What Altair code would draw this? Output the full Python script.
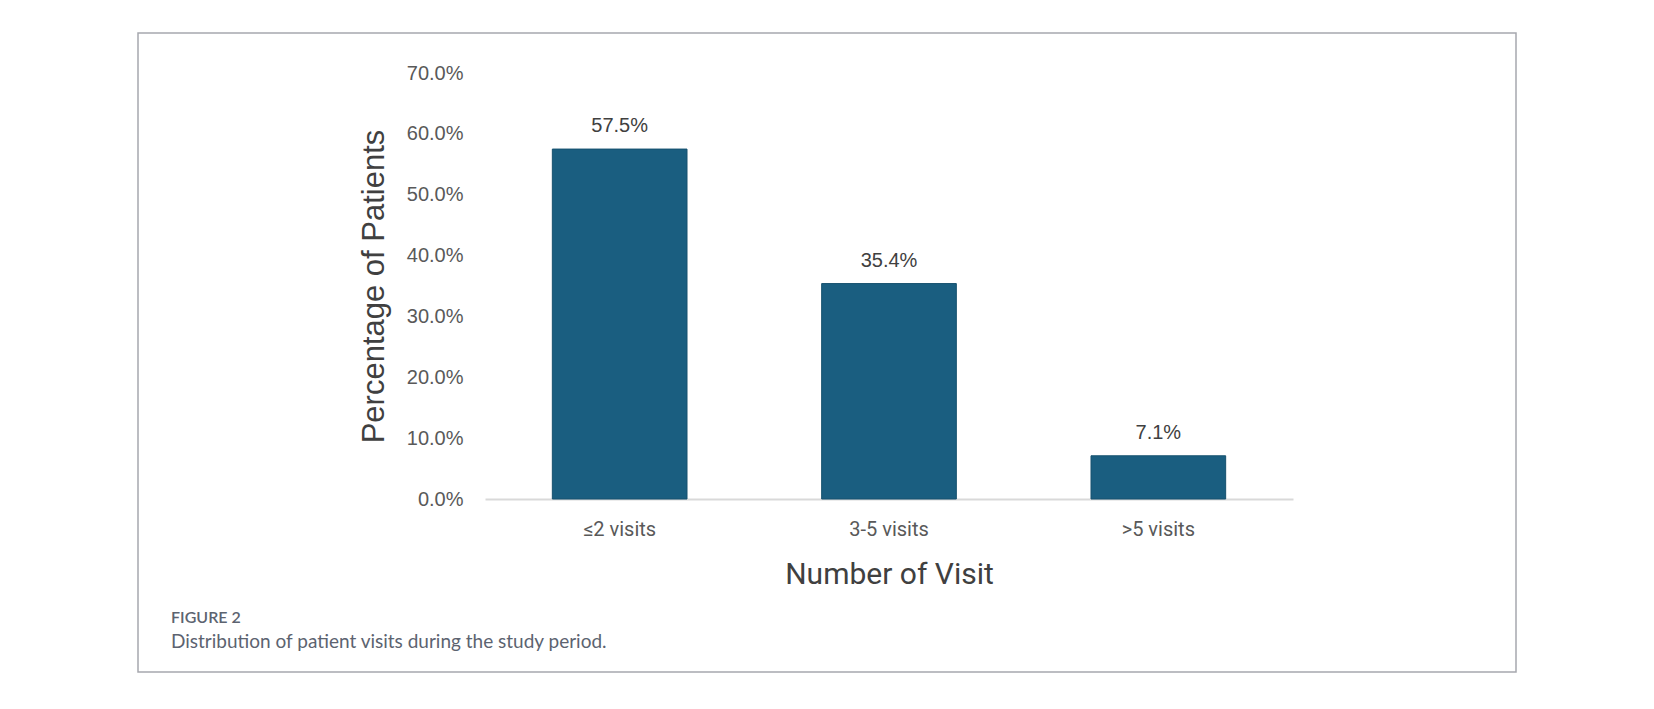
import altair as alt
import pandas as pd

# Share of patients by number of visits during the study period
visit_groups = ["≤2 visits", "3-5 visits", ">5 visits"]
patient_pct = [57.5, 35.4, 7.1]
y_ticks = [0, 10, 20, 30, 40, 50, 60, 70]

fig_label = "FIGURE 2"
fig_caption = "Distribution of patient visits during the study period."

df = pd.DataFrame({"group": visit_groups, "pct": patient_pct})
df["label"] = [f"{v:.1f}%" for v in patient_pct]

BAR = "#1a5e80"
TEXT = "#404040"
CAPTION = "#5c6370"

x_enc = alt.X(
    "group:N",
    sort=visit_groups,
    scale=alt.Scale(paddingInner=0.5, paddingOuter=0.25),
    axis=alt.Axis(
        title="Number of Visit",
        labelAngle=0,
        labelFont="Roboto",
        labelFontSize=20,
        labelColor="#595959",
        labelPadding=20,
        ticks=False,
        tickSize=0,
        domainColor="#d9d9d9",
        domainWidth=2,
        titleFont="Roboto",
        titleFontSize=30,
        titleFontWeight="normal",
        titleColor=TEXT,
        titlePadding=20,
    ),
)
y_enc = alt.Y(
    "pct:Q",
    scale=alt.Scale(domain=[0, 70], nice=False),
    axis=alt.Axis(
        title="Percentage of Patients",
        values=y_ticks,
        labelExpr="format(datum.value, '.1f') + '%'",
        labelFont="Liberation Sans",
        labelFontSize=20,
        labelColor="#595959",
        labelPadding=22,
        ticks=False,
        tickSize=0,
        domain=False,
        grid=False,
        titleFont="Liberation Sans",
        titleFontSize=31,
        titleFontWeight="normal",
        titleColor=TEXT,
        titlePadding=16,
    ),
)

bars = alt.Chart(df).mark_bar(color=BAR, stroke="#16516e", strokeWidth=1).encode(
    x=x_enc, y=y_enc
)

values = alt.Chart(df).mark_text(
    font="Liberation Sans", fontSize=20, color=TEXT, baseline="alphabetic", dy=-17
).encode(x=alt.X("group:N", sort=visit_groups), y="pct:Q", text="label:N")

# Outer frame around figure and caption
frame = alt.Chart(alt.Data(values=[{}])).mark_rect(
    fill=None, stroke="#a6a8ae", strokeWidth=1.5
).encode(
    x=alt.value(-347), x2=alt.value(1031), y=alt.value(-40), y2=alt.value(599)
)

cap_head = alt.Chart(alt.Data(values=[{}])).mark_text(
    text=fig_label, font="Lato", fontSize=16, fontWeight=600, color=CAPTION,
    align="left", baseline="middle",
).encode(x=alt.value(-314), y=alt.value(545))

cap_body = alt.Chart(alt.Data(values=[{}])).mark_text(
    text=fig_caption, font="Lato", fontSize=19, color=CAPTION,
    align="left", baseline="middle",
).encode(x=alt.value(-314), y=alt.value(569))

chart = (
    alt.layer(bars, values, frame, cap_head, cap_body)
    .properties(
        width=808,
        height=426,
        autosize=alt.AutoSizeParams(type="none"),
        padding={"left": 485, "top": 73, "right": 361, "bottom": 210},
        background="white",
    )
    .configure_view(stroke=None)
)

chart.save("out.html", embed_options={"renderer": "svg", "actions": False})
